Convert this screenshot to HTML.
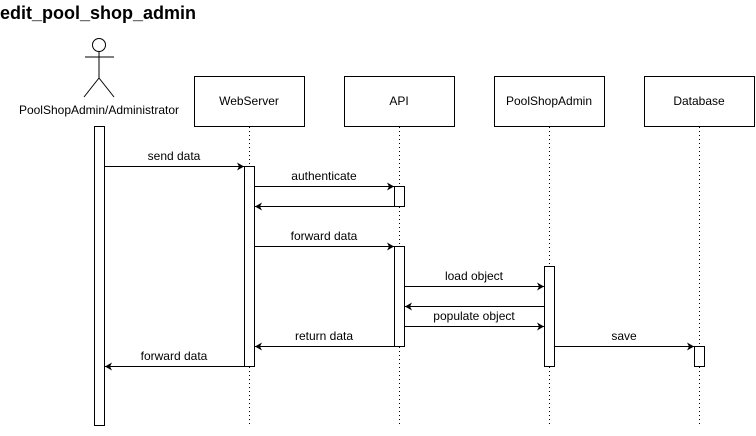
<!DOCTYPE html>
<html><head><style>body{margin:0;background:#fff}</style></head><body>
<svg width="756" height="431" xmlns="http://www.w3.org/2000/svg" font-family="Liberation Sans, sans-serif">
<defs><marker id="a" markerWidth="8" markerHeight="8" refX="7" refY="4" orient="auto" markerUnits="userSpaceOnUse"><path d="M0,0 L7,4 L0,8 L2,4 z" fill="#000"/></marker></defs>
<text x="0" y="19" font-size="18" font-weight="bold">edit_pool_shop_admin</text>
<g stroke="#000" fill="none">
<circle cx="99" cy="45" r="6.5"/>
<line x1="99" y1="51.5" x2="99" y2="78"/>
<line x1="85" y1="57" x2="114" y2="57"/>
<line x1="99" y1="78" x2="84" y2="97"/>
<line x1="99" y1="78" x2="114" y2="97"/>
<rect x="194.5" y="76.5" width="110" height="50"/>
<rect x="344.5" y="76.5" width="110" height="50"/>
<rect x="494.5" y="76.5" width="110" height="50"/>
<rect x="644.5" y="76.5" width="110" height="50"/>
<g stroke-dasharray="1,3">
<line x1="249.5" y1="127" x2="249.5" y2="426"/>
<line x1="399.5" y1="127" x2="399.5" y2="426"/>
<line x1="549.5" y1="127" x2="549.5" y2="426"/>
<line x1="699.5" y1="127" x2="699.5" y2="426"/>
</g>
</g>
<g stroke="#000" fill="#fff">
<rect x="94.5" y="126.5" width="10" height="299"/>
<rect x="244.5" y="166.5" width="10" height="200"/>
<rect x="394.5" y="186.5" width="10" height="20"/>
<rect x="394.5" y="246.5" width="10" height="100"/>
<rect x="544.5" y="266.5" width="10" height="100"/>
<rect x="694.5" y="346.5" width="10" height="20"/>
</g>
<g stroke="#000" marker-end="url(#a)">
<line x1="105" y1="166.5" x2="244" y2="166.5"/>
<line x1="255" y1="186.5" x2="394" y2="186.5"/>
<line x1="394" y1="206.5" x2="255" y2="206.5"/>
<line x1="255" y1="246.5" x2="394" y2="246.5"/>
<line x1="405" y1="286.5" x2="544" y2="286.5"/>
<line x1="544" y1="306.5" x2="405" y2="306.5"/>
<line x1="405" y1="326.5" x2="544" y2="326.5"/>
<line x1="555" y1="346.5" x2="694" y2="346.5"/>
<line x1="394" y1="346.5" x2="255" y2="346.5"/>
<line x1="244" y1="366.5" x2="105" y2="366.5"/>
</g>
<g font-size="12" text-anchor="middle" fill="#000">
<text x="99" y="114">PoolShopAdmin/Administrator</text>
<text x="249" y="105">WebServer</text>
<text x="399" y="105">API</text>
<text x="549" y="105">PoolShopAdmin</text>
<text x="699" y="105">Database</text>
<text x="174" y="160">send data</text>
<text x="324" y="180">authenticate</text>
<text x="324" y="240">forward data</text>
<text x="474" y="280">load object</text>
<text x="474" y="320">populate object</text>
<text x="624" y="340">save</text>
<text x="324" y="340">return data</text>
<text x="174" y="360">forward data</text>
</g>
</svg>
</body></html>
